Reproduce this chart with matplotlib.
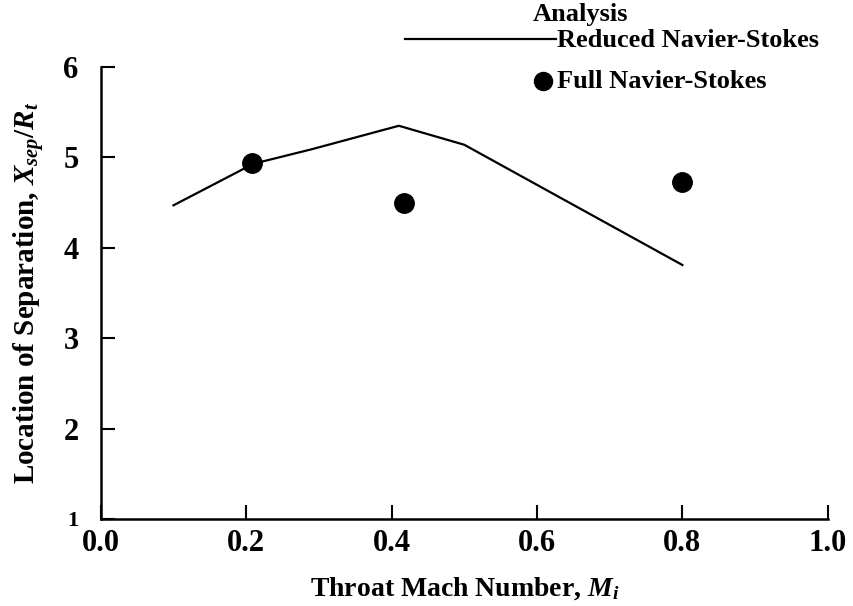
import matplotlib
matplotlib.use("Agg")
import matplotlib.pyplot as plt
from matplotlib.lines import Line2D

# ------------------------------------------
# data
# ------------------------------------------
mach_reduced = [0.10, 0.21, 0.29, 0.41, 0.50, 0.80]
xsep_reduced = [4.47, 4.93, 5.09, 5.35, 5.14, 3.81]

mach_full = [0.208, 0.417, 0.80]
xsep_full = [4.94, 4.50, 4.73]

x_ticks = [0.0, 0.2, 0.4, 0.6, 0.8, 1.0]
x_tick_labels = ["0.0", "0.2", "0.4", "0.6", "0.8", "1.0"]
y_ticks = [1, 2, 3, 4, 5, 6]
y_tick_labels = ["1", "2", "3", "4", "5", "6"]

# ------------------------------------------
# style
# ------------------------------------------
plt.rcParams["font.family"] = ["Liberation Serif", "DejaVu Serif"]
plt.rcParams["font.weight"] = "bold"
plt.rcParams["mathtext.fontset"] = "custom"
plt.rcParams["mathtext.rm"] = "Liberation Serif:bold"
plt.rcParams["mathtext.it"] = "Liberation Serif:italic:bold"
plt.rcParams["mathtext.bf"] = "Liberation Serif:bold"

fig = plt.figure(figsize=(8.54, 6.06), dpi=100)
ax = fig.add_axes([0.118, 0.1436, 0.8513, 0.7458])

ax.plot(mach_reduced, xsep_reduced, color="black", linewidth=1.6)
ax.plot(mach_full, xsep_full, linestyle="none", marker="o",
        markersize=14, color="black")

ax.set_xlim(0.0, 1.0)
ax.set_ylim(1, 6)
ax.spines["top"].set_visible(False)
ax.spines["right"].set_visible(False)
ax.spines["left"].set_linewidth(1.8)
ax.spines["bottom"].set_linewidth(1.8)

ax.set_xticks(x_ticks)
ax.set_xticklabels(x_tick_labels, fontsize=22, fontweight="bold")
ax.set_yticks(y_ticks)
ax.set_yticklabels(y_tick_labels, fontsize=22, fontweight="bold")
ax.get_yticklabels()[0].set_fontsize(16)

ax.tick_params(axis="x", direction="in", length=10, width=1.5, pad=7)
ax.tick_params(axis="y", direction="in", length=10, width=1.5, pad=16)

ax.set_xlabel("Throat Mach Number, $M_i$", fontsize=20,
              fontweight="bold", labelpad=13)
ax.set_ylabel("Location of Separation, $X_{sep}/R_t$", fontsize=21,
              fontweight="bold", labelpad=12)

# ------------------------------------------
# legend, drawn by hand like the original
# ------------------------------------------
H = 606.0
W = 854.0
fig.text(533 / W, 1 - 21 / H, "Analysis", fontsize=19,
         fontweight="bold", va="baseline", ha="left")
fig.add_artist(Line2D([405 / W, 556 / W], [1 - 39 / H, 1 - 39 / H],
                      color="black", linewidth=1.6,
                      transform=fig.transFigure))
fig.text(557 / W, 1 - 47 / H, "Reduced Navier-Stokes", fontsize=19,
         fontweight="bold", va="baseline", ha="left")
fig.add_artist(Line2D([543 / W], [1 - 81 / H], marker="o",
                      markersize=13, color="black", linestyle="none",
                      transform=fig.transFigure))
fig.text(557 / W, 1 - 88 / H, "Full Navier-Stokes", fontsize=19,
         fontweight="bold", va="baseline", ha="left")

fig.savefig("out.png", dpi=100)
